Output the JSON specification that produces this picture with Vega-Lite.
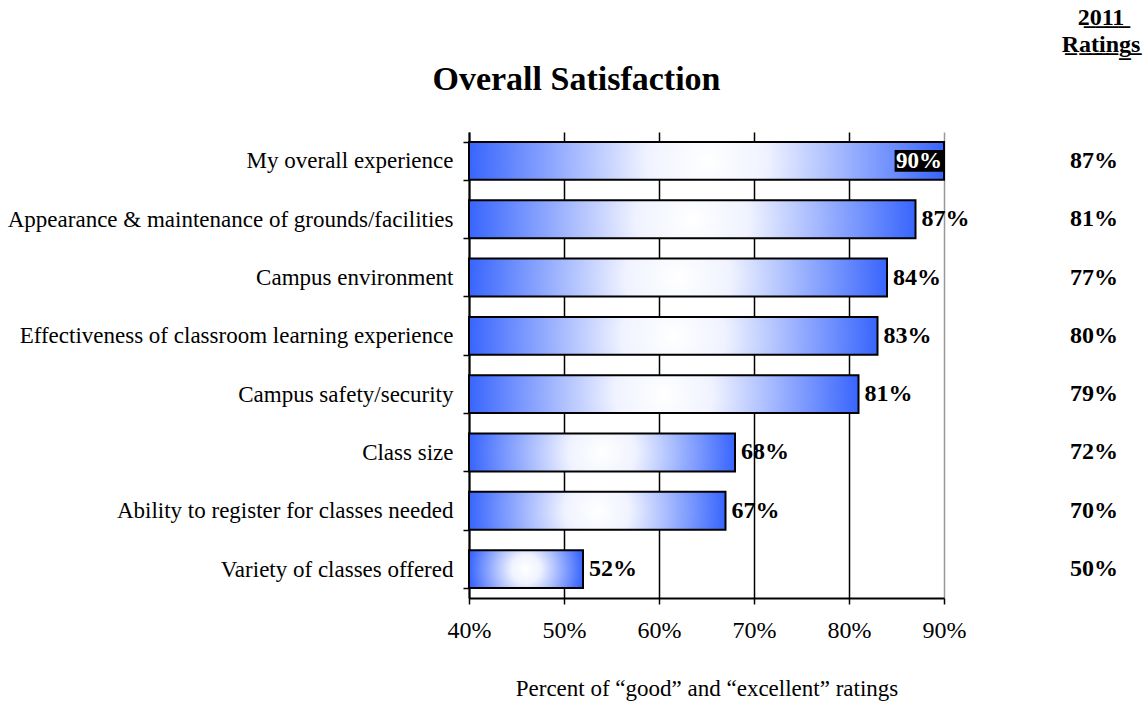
{
  "$schema": "https://vega.github.io/schema/vega-lite/v6.json",
  "background": "white",
  "padding": {"left": 7, "top": 6, "right": 5, "bottom": 5},
  "config": {"font": "Liberation Serif", "view": {"stroke": null}},
  "bounds": "flush",
  "spacing": 110,
  "datasets": {
    "ratings": [
      {"item": "My overall experience", "pct": 0.90, "r2011": 0.87},
      {"item": "Appearance & maintenance of grounds/facilities", "pct": 0.87, "r2011": 0.81},
      {"item": "Campus environment", "pct": 0.84, "r2011": 0.77},
      {"item": "Effectiveness of classroom learning experience", "pct": 0.83, "r2011": 0.80},
      {"item": "Campus safety/security", "pct": 0.81, "r2011": 0.79},
      {"item": "Class size", "pct": 0.68, "r2011": 0.72},
      {"item": "Ability to register for classes needed", "pct": 0.67, "r2011": 0.70},
      {"item": "Variety of classes offered", "pct": 0.52, "r2011": 0.50}
    ]
  },
  "hconcat": [
    {
      "width": 475,
      "height": 466,
      "title": {"text": "Overall Satisfaction", "fontSize": 34, "fontWeight": "bold", "font": "Liberation Serif", "anchor": "middle", "dx": -130, "offset": 24, "color": "black"},
      "data": {"name": "ratings"},
      "encoding": {
        "y": {
          "field": "item", "type": "nominal", "sort": null,
          "scale": {"paddingInner": 0.35, "paddingOuter": 0.17},
          "axis": {"title": null, "labelFontSize": 23, "labelFont": "Liberation Serif", "labelColor": "black", "domainColor": "black", "domainWidth": 2, "tickColor": "black", "tickBand": "extent", "tickSize": 6, "tickWidth": 1.5, "labelPadding": 10, "labelLimit": 0, "grid": false}
        }
      },
      "layer": [
        {
          "mark": {
            "type": "bar",
            "fill": {"gradient": "radial", "x1": 0.5, "y1": 0.5, "x2": 0.5, "y2": 0.5, "r1": 0, "r2": 0.5,
              "stops": [{"offset": 0, "color": "#ffffff"}, {"offset": 0.25, "color": "#f0f3ff"}, {"offset": 1, "color": "#3865fd"}]},
            "stroke": "black", "strokeWidth": 2
          },
          "encoding": {
            "x": {
              "field": "pct", "type": "quantitative",
              "scale": {"domain": [0.4, 0.9], "zero": false, "nice": false},
              "axis": {
                "values": [0.4, 0.5, 0.6, 0.7, 0.8, 0.9], "format": ".0%",
                "labelFontSize": 24, "labelFont": "Liberation Serif", "labelColor": "black", "labelFlush": false,
                "domainColor": "black", "domainWidth": 2, "tickColor": "black", "tickSize": 6, "tickWidth": 1.5,
                "labelPadding": 14,
                "grid": true, "gridWidth": 1.5,
                "gridColor": {"condition": {"test": "datum.value >= 0.9", "value": "#999999"}, "value": "black"},
                "title": "Percent of “good” and “excellent” ratings",
                "titleFontSize": 23, "titleFontWeight": "normal", "titleFont": "Liberation Serif", "titleColor": "black", "titlePadding": 35
              }
            },
            "x2": {"datum": 0.4}
          }
        },
        {
          "transform": [{"filter": "datum.pct < 0.9"}],
          "mark": {"type": "text", "align": "left", "dx": 6, "fontWeight": "bold", "fontSize": 24, "color": "black"},
          "encoding": {
            "x": {"field": "pct", "type": "quantitative"},
            "text": {"field": "pct", "type": "quantitative", "format": ".0%"}
          }
        },
        {
          "transform": [{"filter": "datum.pct >= 0.9"}],
          "mark": {"type": "bar", "color": "black", "height": {"band": 0.58}},
          "encoding": {
            "x": {"field": "pct", "type": "quantitative"},
            "x2": {"datum": 0.848}
          }
        },
        {
          "transform": [{"filter": "datum.pct >= 0.9"}],
          "mark": {"type": "text", "align": "right", "dx": -2, "fontWeight": "bold", "fontSize": 23, "color": "white"},
          "encoding": {
            "x": {"field": "pct", "type": "quantitative"},
            "text": {"field": "pct", "type": "quantitative", "format": ".0%"}
          }
        }
      ]
    },
    {
      "width": 80,
      "height": 466,
      "title": {"text": ["2̲0̲1̲1̲", "R̲a̲t̲i̲n̲g̲s̲"], "fontSize": 24, "fontWeight": "bold", "font": "Liberation Serif", "anchor": "middle", "dx": 7, "offset": 75, "lineHeight": 27, "color": "black"},
      "data": {"name": "ratings"},
      "mark": {"type": "text", "fontWeight": "bold", "fontSize": 24, "color": "black"},
      "encoding": {
        "y": {"field": "item", "type": "nominal", "sort": null, "scale": {"paddingInner": 0.35, "paddingOuter": 0.17}, "axis": null},
        "text": {"field": "r2011", "type": "quantitative", "format": ".0%"}
      }
    }
  ]
}
